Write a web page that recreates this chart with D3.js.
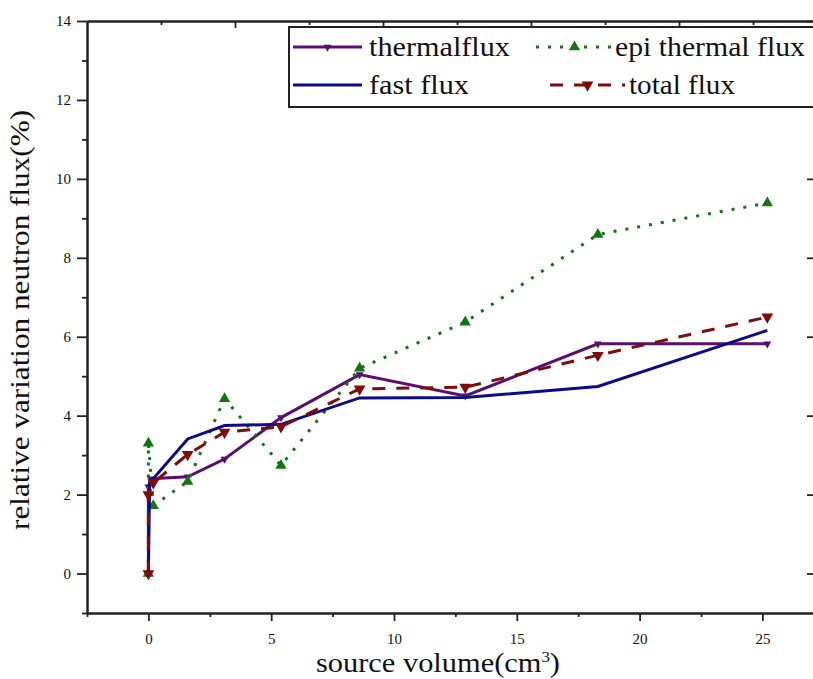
<!DOCTYPE html>
<html lang="en">
<head>
<meta charset="utf-8">
<title>relative variation neutron flux</title>
<script src="https://d3js.org/d3.v7.min.js"></script>
<style>
body { margin: 0; background: #fff; }
svg text { font-family: "Liberation Serif", "Times New Roman", serif; fill: #111; }
</style>
</head>
<body>
<div id="chart"></div>
<script>
// data
var seriesNames = ["thermalflux", "epi thermal flux", "fast flux", "total flux"];
var thermalX = [0, 0, 0.1, 1.6, 3.1, 5.4, 8.6, 12.9, 18.3, 25.2];
var thermalY = [0, 2.2, 2.4, 2.45, 2.9, 3.95, 5.04, 4.5, 5.82, 5.82];
var epiX = [0, 0, 0.2, 1.6, 3.1, 5.4, 8.6, 12.9, 18.3, 25.2];
var epiY = [0, 3.3, 1.72, 2.33, 4.43, 2.74, 5.2, 6.37, 8.59, 9.39];
var fastX = [0, 0.05, 1.6, 3.1, 5.4, 8.6, 12.9, 18.3, 25.2];
var fastY = [0, 2.3, 3.41, 3.75, 3.78, 4.45, 4.46, 4.74, 6.16];
var totalX = [0, 0, 0.2, 1.6, 3.1, 5.4, 8.6, 12.9, 18.3, 25.2];
var totalY = [0, 2.0, 2.3, 3.02, 3.58, 3.72, 4.68, 4.72, 5.53, 6.5];
var xTicks = [0, 5, 10, 15, 20, 25];
var xMinor = [-2.5, 2.5, 7.5, 12.5, 17.5, 22.5, 27.5];
var yTicks = [0, 2, 4, 6, 8, 10, 12, 14];
var yMinor = [-1, 1, 3, 5, 7, 9, 11, 13];

var width = 813, height = 679;
var margin = {left: 87, top: 21, right: 817, bottom: 613};

var svg = d3.select("#chart").append("svg")
  .attr("width", width)
  .attr("height", height);

var x = d3.scaleLinear().domain([-2.5, 27.5]).range([margin.left, margin.left + 30 * 24.56]);
var y = d3.scaleLinear().domain([-1, 14]).range([margin.bottom, margin.top]);
// top axis of the figure has its own tick spacing
var xTop = d3.scaleLinear().domain([0, 10]).range([margin.left, margin.left + 740]);

// axes
var axisColor = "#222";
function styleAxis(g) {
  g.selectAll(".domain").attr("stroke", axisColor).attr("stroke-width", 2);
  g.selectAll(".tick line").attr("stroke", axisColor).attr("stroke-width", 1.8);
  g.selectAll("text").style("font-size", "15px").attr("fill", "#111");
}

svg.append("g")
  .attr("transform", "translate(0," + margin.bottom + ")")
  .call(d3.axisBottom(x).tickValues(xTicks).tickSize(8).tickPadding(12).tickSizeOuter(0))
  .call(styleAxis);
svg.append("g")
  .attr("transform", "translate(0," + margin.bottom + ")")
  .call(d3.axisBottom(x).tickValues(xMinor).tickSize(4).tickFormat("").tickSizeOuter(0))
  .call(styleAxis);

svg.append("g")
  .attr("transform", "translate(" + margin.left + ",0)")
  .call(d3.axisLeft(y).tickValues(yTicks).tickSize(10).tickPadding(6).tickSizeOuter(0))
  .call(styleAxis);
svg.append("g")
  .attr("transform", "translate(" + margin.left + ",0)")
  .call(d3.axisLeft(y).tickValues(yMinor).tickSize(5).tickFormat("").tickSizeOuter(0))
  .call(styleAxis);

svg.append("g")
  .attr("transform", "translate(0," + margin.top + ")")
  .call(d3.axisBottom(xTop).tickValues([2, 4, 6, 8, 10]).tickSize(7).tickFormat("").tickSizeOuter(0))
  .call(styleAxis);
svg.append("g")
  .attr("transform", "translate(0," + margin.top + ")")
  .call(d3.axisBottom(xTop).tickValues([1, 3, 5, 7, 9]).tickSize(4).tickFormat("").tickSizeOuter(0))
  .call(styleAxis);

svg.append("g")
  .attr("transform", "translate(" + margin.right + ",0)")
  .call(d3.axisRight(y).tickValues(yTicks).tickSize(-10).tickFormat("").tickSizeOuter(0))
  .call(styleAxis);

// axis titles
svg.append("text")
  .attr("x", 316)
  .attr("y", 672)
  .style("font-size", "27px")
  .attr("textLength", 244)
  .attr("lengthAdjust", "spacingAndGlyphs")
  .html('source volume(cm<tspan dy="-10" style="font-size:15px">3</tspan><tspan dy="10">)</tspan>');

svg.append("text")
  .attr("transform", "translate(29,320) rotate(-90)")
  .attr("text-anchor", "middle")
  .style("font-size", "27px")
  .attr("textLength", 420)
  .attr("lengthAdjust", "spacingAndGlyphs")
  .text("relative variation neutron flux(%)");

// series
var series = [
  {name: seriesNames[0], xs: thermalX, ys: thermalY, color: "#5a0f6e", dash: null, marker: "down", size: 28},
  {name: seriesNames[1], xs: epiX, ys: epiY, color: "#137413", dash: "3,9", marker: "up", size: 55},
  {name: seriesNames[2], xs: fastX, ys: fastY, color: "#0b0b8a", dash: null, marker: null, size: 0},
  {name: seriesNames[3], xs: totalX, ys: totalY, color: "#7f0b0b", dash: "13,11", marker: "down", size: 60}
];

var line = d3.line()
  .x(function(d) { return x(d[0]); })
  .y(function(d) { return y(d[1]); });

function symbolPath(size) {
  return d3.symbol().type(d3.symbolTriangle).size(size)();
}

series.forEach(function(s) {
  var pts = s.xs.map(function(v, i) { return [v, s.ys[i]]; });
  svg.append("path")
    .datum(pts)
    .attr("fill", "none")
    .attr("stroke", s.color)
    .attr("stroke-width", 3)
    .attr("stroke-dasharray", s.dash)
    .attr("d", line);
  if (s.marker) {
    svg.append("g").selectAll("path")
      .data(pts)
      .enter()
      .append("path")
      .attr("d", symbolPath(s.size))
      .attr("fill", s.color)
      .attr("transform", function(d) {
        return "translate(" + x(d[0]) + "," + y(d[1]) + ")" + (s.marker == "down" ? " rotate(180)" : "");
      });
  }
});

// legend
var legend = svg.append("g");
legend.append("rect")
  .attr("x", 289).attr("y", 27)
  .attr("width", 540).attr("height", 80)
  .attr("fill", "#fff")
  .attr("stroke", axisColor)
  .attr("stroke-width", 2);

var legendItems = [
  {s: series[0], x1: 293, x2: 362, tx: 369, ty: 47, tw: 141},
  {s: series[1], x1: 536, x2: 613, tx: 615, ty: 47, tw: 190},
  {s: series[2], x1: 293, x2: 362, tx: 369, ty: 85, tw: 100},
  {s: series[3], x1: 550, x2: 625, tx: 629, ty: 85, tw: 106}
];
legendItems.forEach(function(it) {
  legend.append("line")
    .attr("x1", it.x1).attr("x2", it.x2)
    .attr("y1", it.ty).attr("y2", it.ty)
    .attr("stroke", it.s.color)
    .attr("stroke-width", 3)
    .attr("stroke-dasharray", it.s.dash);
  if (it.s.marker) {
    legend.append("path")
      .attr("d", symbolPath(it.s.size))
      .attr("fill", it.s.color)
      .attr("transform", "translate(" + ((it.x1 + it.x2) / 2) + "," + it.ty + ")" + (it.s.marker == "down" ? " rotate(180)" : ""));
  }
  legend.append("text")
    .attr("x", it.tx)
    .attr("y", it.ty + 9)
    .style("font-size", "27px")
    .attr("textLength", it.tw)
    .attr("lengthAdjust", "spacingAndGlyphs")
    .text(it.s.name);
});
</script>
</body>
</html>
